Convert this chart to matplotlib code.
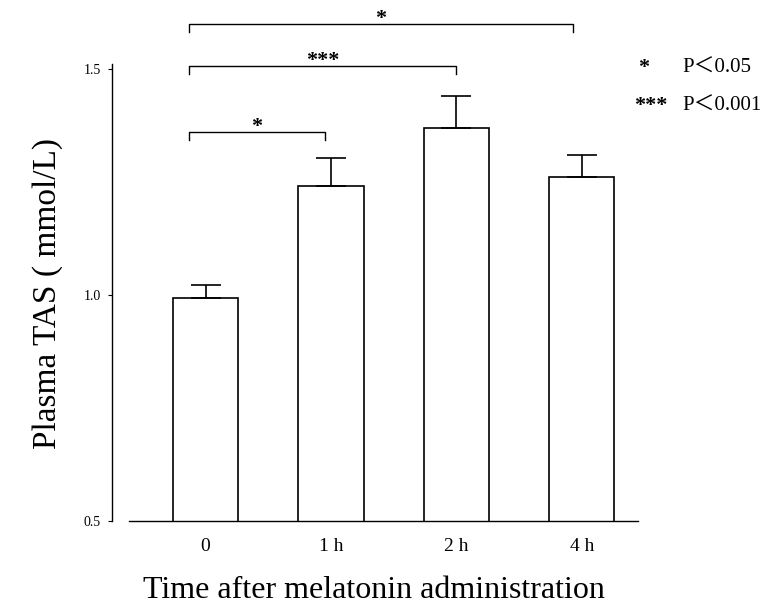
import matplotlib.pyplot as plt

plt.rcParams['font.family'] = ['Liberation Serif', 'Noto Sans CJK SC']

# data
groups = ['0', '1 h', '2 h', '4 h']
tas_mean = [0.993, 1.240, 1.369, 1.261]
tas_sem = [0.029, 0.064, 0.072, 0.049]

# significance brackets: (left x, right x, level, stars)
bracket_left = [-0.13, -0.13, -0.13]
bracket_right = [0.95, 2.0, 2.93]
bracket_y = [1.361, 1.507, 1.599]
bracket_stars = ['*', '***', '*']

legend_stars = ['*', '***']
legend_text = ['P＜0.05', 'P＜0.001']

fig = plt.figure(figsize=(7.68, 6.05), dpi=100)
ax = fig.add_axes([0.168, 0.1388, 0.663, 0.837])

x = range(len(groups))
ax.bar(x, tas_mean, 0.52, bottom=0, color='white', edgecolor='black', linewidth=1.2)
ax.errorbar(x, tas_mean, yerr=[[0] * 4, tas_sem], fmt='none', ecolor='black',
            elinewidth=1.2, capsize=11, capthick=1.2)

ax.set_xlim(-0.61, 3.45)
ax.set_ylim(0.5, 1.62)
ax.set_yticks([0.5, 1.0, 1.5])
ax.set_yticklabels(['0.5', '1.0', '1.5'], fontsize=9)
ax.set_xticks(list(x))
ax.set_xticklabels(groups, fontsize=14)
ax.tick_params(axis='x', length=0, pad=12)
ax.tick_params(axis='y', length=3, width=0.8, pad=5)

for s in ['top', 'right']:
    ax.spines[s].set_visible(False)
ax.spines['left'].set_position(('outward', 12.2))
ax.spines['left'].set_bounds(0.5, 1.51)
ax.spines['left'].set_linewidth(1.0)
ax.spines['bottom'].set_linewidth(1.0)

drop = 0.018
for xl, xr, yb, st in zip(bracket_left, bracket_right, bracket_y, bracket_stars):
    ax.plot([xl, xl, xr, xr], [yb - drop, yb, yb, yb - drop], color='black',
            linewidth=1.0, clip_on=False)
    ax.text((xl + xr) / 2, yb - 0.011, st, ha='center', va='bottom', fontsize=16,
            fontweight='bold', clip_on=False)

legend_items = [
    ax.text(3.49, 1.502, legend_stars[0], ha='center', va='center', fontsize=16,
            fontweight='bold'),
    ax.text(3.55, 1.418, legend_stars[1], ha='center', va='center', fontsize=16,
            fontweight='bold'),
    ax.text(3.80, 1.501, legend_text[0], ha='left', va='center', fontsize=15),
    ax.text(3.80, 1.418, legend_text[1], ha='left', va='center', fontsize=15),
]
for t in legend_items:
    t.set_clip_on(False)

ax.set_ylabel('Plasma TAS ( mmol/L)', fontsize=24)
ax.yaxis.set_label_coords(-0.13, 0.449)
ax.set_xlabel('Time after melatonin administration', fontsize=23, va='baseline')
ax.xaxis.set_label_coords(0.481, -0.152)

plt.savefig('out.png', dpi=100)
